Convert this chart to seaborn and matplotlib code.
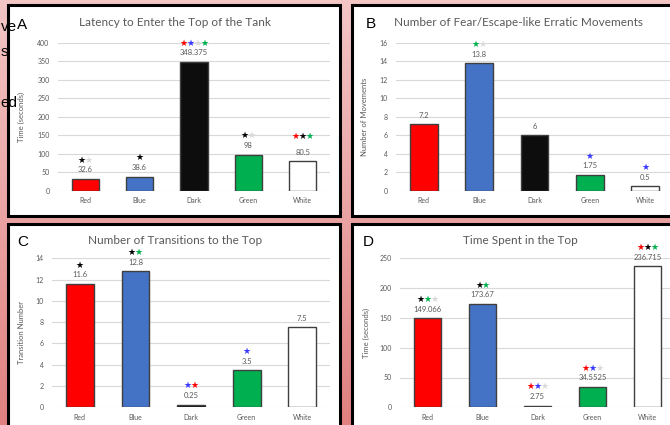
import numpy as np
import pandas as pd
import matplotlib
matplotlib.use('Agg')
import matplotlib.pyplot as plt
from matplotlib.patches import Rectangle
import seaborn as sns

# ---------- data
cats = ['Red', 'Blue', 'Dark', 'Green', 'White']
bar_colors = ['#ff0000', '#4472c4', '#0d0d0d', '#00b050', '#ffffff']

latency = [32.6, 38.6, 348.375, 98, 80.5]
erratic = [7.2, 13.8, 6, 1.75, 0.5]
transitions = [11.6, 12.8, 0.25, 3.5, 7.5]
time_top = [149.066, 173.67, 2.75, 34.5525, 236.715]

# significance stars: k=black, l=light grey, r=red, b=blue, g=green
latency_stars = ['kl', 'k', 'rblg', 'kl', 'rkg']
erratic_stars = ['', 'gl', '', 'b', 'b']
transitions_stars = ['k', 'kg', 'br', 'b', '']
time_stars = ['kgl', 'kg', 'rbl', 'rbl', 'rkg']

titles = ['Latency to Enter the Top of the Tank',
          'Number of Fear/Escape-like Erratic Movements',
          'Number of Transitions to the Top',
          'Time Spent in the Top']
ylabels = ['Time (seconds)', 'Number of Movements', 'Transition Number', 'Time (seconds)']
letters = ['A', 'B', 'C', 'D']
yticks = [np.arange(0, 401, 50), np.arange(0, 17, 2), np.arange(0, 15, 2), np.arange(0, 251, 50)]

star_col = {'k': '#000000', 'l': '#d9d9d9', 'r': '#ff0000', 'b': '#3a3aff', 'g': '#00b050'}

W, H = 670, 425
GRAY = '#595959'
FONT = 'Lato'


def fx(px):
    return px / W


def fy(py):
    return 1 - py / H


fig = plt.figure(figsize=(6.7, 4.25), dpi=100)

# pink gradient background
bg = fig.add_axes([0, 0, 1, 1])
grad = np.linspace(0, 1, 256).reshape(-1, 1)
top = np.array([244, 198, 198]) / 255
bot = np.array([224, 128, 128]) / 255
img = top[None, None, :] * (1 - grad[:, :, None]) + bot[None, None, :] * grad[:, :, None]
bg.imshow(img, aspect='auto', extent=[0, 1, 0, 1])
bg.set_axis_off()

# words of the surrounding text, left edge
for word, py in [('ve', 27), ('s', 52), ('ed', 103)]:
    fig.text(fx(0.5), fy(py), word, ha='left', va='center', fontsize=11,
             family='Liberation Sans', color='black')

# panel boxes (px): left, top, right, bottom
boxes = [(8, 5, 340, 216), (352, 5, 690, 216), (8, 224, 340, 440), (352, 224, 690, 440)]
for l, t, r, b in boxes:
    fig.add_artist(Rectangle((fx(l), fy(b)), fx(r - l), (b - t) / H, transform=fig.transFigure,
                             facecolor='white', edgecolor='black', linewidth=2.2, zorder=1))

# axes areas (px): left, right, top(ymax), bottom(y=0)
areas = [(58, 330, 42.7, 191), (396, 673, 42.7, 191), (52, 330, 258.3, 407.3), (400, 675, 258.3, 407.3)]
title_pos = [(175, 23), (518, 23), (175, 240), (520, 240)]
letter_pos = [(17, 25), (366, 24), (17, 242), (363, 242)]
label_x = [25, 368, 25, 370]

datasets = [latency, erratic, transitions, time_top]
starsets = [latency_stars, erratic_stars, transitions_stars, time_stars]

for i in range(4):
    l, r, t, b = areas[i]
    ax = fig.add_axes([fx(l), fy(b), fx(r - l), (b - t) / H], zorder=2)
    ax.patch.set_alpha(0)
    df = pd.DataFrame({'cat': cats, 'val': datasets[i]})
    sns.barplot(data=df, x='cat', y='val', hue='cat', palette=bar_colors, ax=ax,
                legend=False, width=0.5, saturation=1, edgecolor='#3f3f3f',
                linewidth=1.0, zorder=3)
    ax.set_ylim(yticks[i][0], yticks[i][-1])
    ax.set_yticks(yticks[i])
    ax.grid(axis='y', color='#d9d9d9', linewidth=0.8, zorder=0)
    ax.set_axisbelow(True)
    for s in ax.spines.values():
        s.set_visible(False)
    ax.tick_params(length=0, labelsize=5, labelcolor=GRAY)
    ax.tick_params(axis='x', pad=4.5)
    ax.tick_params(axis='y', pad=6)
    for lab in ax.get_xticklabels() + ax.get_yticklabels():
        lab.set_family(FONT)
    ax.set_xlabel('')
    ax.set_ylabel(ylabels[i], fontsize=5.5, color=GRAY, family=FONT)
    ax.yaxis.set_label_coords((label_x[i] - l) / (r - l), 0.5)

    for j, v in enumerate(datasets[i]):
        ax.annotate(f'{v:g}', (j, v), xytext=(0, 6.5), textcoords='offset points',
                    ha='center', va='center', fontsize=5.5, color=GRAY, family=FONT, zorder=4)
        st = starsets[i][j]
        n = len(st)
        # the White stars in panel A sit a little higher
        lift = 17.5 if (i == 0 and j == 4) else 13.5
        for k, c in enumerate(st):
            dx = (k - (n - 1) / 2) * 5.0
            ax.annotate('\u2605', (j, v), xytext=(dx, lift), textcoords='offset points',
                        ha='center', va='center', fontsize=6.5, color=star_col[c],
                        family='DejaVu Sans', zorder=4)

    fig.text(fx(title_pos[i][0]), fy(title_pos[i][1]), titles[i], ha='center', va='center',
             fontsize=8.5, color=GRAY, family=FONT, zorder=3)
    fig.text(fx(letter_pos[i][0]), fy(letter_pos[i][1]), letters[i], ha='left', va='center',
             fontsize=11, color='black', family='Liberation Sans', zorder=3)

fig.savefig('out.png', dpi=100)
